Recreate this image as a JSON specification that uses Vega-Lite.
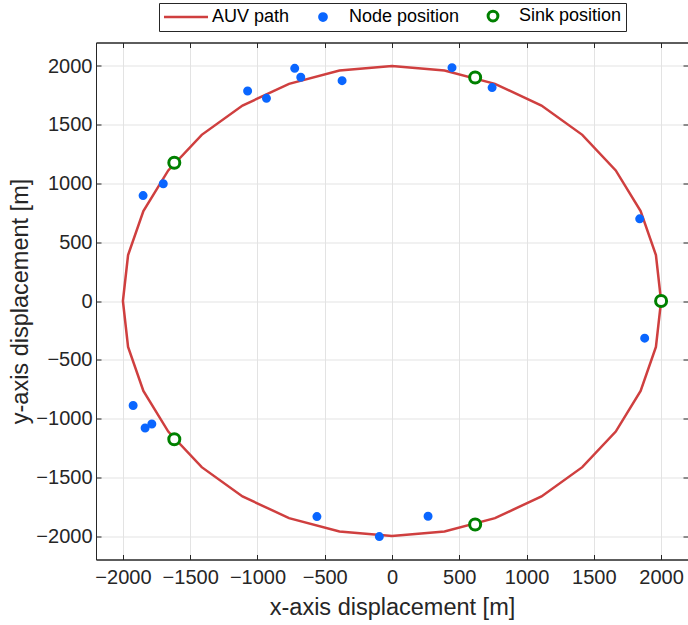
{
  "$schema": "https://vega.github.io/schema/vega-lite/v6.json",
  "width": 592,
  "height": 517,
  "autosize": {"type": "none"},
  "padding": {"left": 96, "top": 42.5, "right": 0, "bottom": 65.5},
  "background": "white",
  "config": {
    "view": {"stroke": "#262626", "strokeWidth": 1},
    "font": "Liberation Sans",
    "axis": {
      "gridColor": "#e3e3e3",
      "gridWidth": 1,
      "domainColor": "#262626",
      "tickColor": "#262626",
      "labelColor": "#262626",
      "titleColor": "#262626",
      "labelFontSize": 20,
      "titleFontSize": 23.5,
      "titleFontWeight": "normal",
      "labelFont": "Liberation Sans",
      "titleFont": "Liberation Sans",
      "tickSize": -5,
      "format": "d"
    },
    "legend": {
      "orient": "none", "legendX": 63, "legendY": -39.5,
      "direction": "horizontal", "title": null,
      "labelFontSize": 18, "labelFont": "Liberation Sans", "labelColor": "#000000",
      "strokeColor": "#262626", "fillColor": "white",
      "padding": 4, "columnPadding": 10,
      "symbolSize": 49, "symbolOffset": 14, "labelOffset": 17
    }
  },
  "datasets": {
    "path": [
      {"k": 0, "x": 2000, "y": 0, "series": "AUV path"},
      {"k": 1, "x": 1961.6, "y": 390.2, "series": "AUV path"},
      {"k": 2, "x": 1847.8, "y": 765.4, "series": "AUV path"},
      {"k": 3, "x": 1663.0, "y": 1111.1, "series": "AUV path"},
      {"k": 4, "x": 1414.2, "y": 1414.2, "series": "AUV path"},
      {"k": 5, "x": 1111.1, "y": 1663.0, "series": "AUV path"},
      {"k": 6, "x": 765.4, "y": 1847.8, "series": "AUV path"},
      {"k": 7, "x": 390.2, "y": 1961.6, "series": "AUV path"},
      {"k": 8, "x": 0, "y": 2000, "series": "AUV path"},
      {"k": 9, "x": -390.2, "y": 1961.6, "series": "AUV path"},
      {"k": 10, "x": -765.4, "y": 1847.8, "series": "AUV path"},
      {"k": 11, "x": -1111.1, "y": 1663.0, "series": "AUV path"},
      {"k": 12, "x": -1414.2, "y": 1414.2, "series": "AUV path"},
      {"k": 13, "x": -1663.0, "y": 1111.1, "series": "AUV path"},
      {"k": 14, "x": -1847.8, "y": 765.4, "series": "AUV path"},
      {"k": 15, "x": -1961.6, "y": 390.2, "series": "AUV path"},
      {"k": 16, "x": -2000, "y": 0, "series": "AUV path"},
      {"k": 17, "x": -1961.6, "y": -390.2, "series": "AUV path"},
      {"k": 18, "x": -1847.8, "y": -765.4, "series": "AUV path"},
      {"k": 19, "x": -1663.0, "y": -1111.1, "series": "AUV path"},
      {"k": 20, "x": -1414.2, "y": -1414.2, "series": "AUV path"},
      {"k": 21, "x": -1111.1, "y": -1663.0, "series": "AUV path"},
      {"k": 22, "x": -765.4, "y": -1847.8, "series": "AUV path"},
      {"k": 23, "x": -390.2, "y": -1961.6, "series": "AUV path"},
      {"k": 24, "x": 0, "y": -2000, "series": "AUV path"},
      {"k": 25, "x": 390.2, "y": -1961.6, "series": "AUV path"},
      {"k": 26, "x": 765.4, "y": -1847.8, "series": "AUV path"},
      {"k": 27, "x": 1111.1, "y": -1663.0, "series": "AUV path"},
      {"k": 28, "x": 1414.2, "y": -1414.2, "series": "AUV path"},
      {"k": 29, "x": 1663.0, "y": -1111.1, "series": "AUV path"},
      {"k": 30, "x": 1847.8, "y": -765.4, "series": "AUV path"},
      {"k": 31, "x": 1961.6, "y": -390.2, "series": "AUV path"},
      {"k": 32, "x": 2000, "y": 0, "series": "AUV path"}
    ],
    "nodes": [
      {"x": -1850, "y": 897, "series": "Node position"},
      {"x": -1700, "y": 998, "series": "Node position"},
      {"x": -1073, "y": 1787, "series": "Node position"},
      {"x": -933, "y": 1725, "series": "Node position"},
      {"x": -723, "y": 1980, "series": "Node position"},
      {"x": -678, "y": 1904, "series": "Node position"},
      {"x": -371, "y": 1875, "series": "Node position"},
      {"x": 446, "y": 1986, "series": "Node position"},
      {"x": 744, "y": 1816, "series": "Node position"},
      {"x": 1841, "y": 699, "series": "Node position"},
      {"x": 1878, "y": -316, "series": "Node position"},
      {"x": -1924, "y": -889, "series": "Node position"},
      {"x": -1835, "y": -1081, "series": "Node position"},
      {"x": -1785, "y": -1047, "series": "Node position"},
      {"x": -558, "y": -1835, "series": "Node position"},
      {"x": -94, "y": -2005, "series": "Node position"},
      {"x": 268, "y": -1832, "series": "Node position"}
    ],
    "sinks": [
      {"x": 2000, "y": 0, "series": "Sink position"},
      {"x": 618, "y": 1902, "series": "Sink position"},
      {"x": -1618, "y": 1176, "series": "Sink position"},
      {"x": -1618, "y": -1176, "series": "Sink position"},
      {"x": 618, "y": -1902, "series": "Sink position"}
    ]
  },
  "layer": [
    {
      "data": {"name": "path"},
      "mark": {"type": "line", "strokeWidth": 2.5, "clip": false},
      "encoding": {
        "x": {
          "field": "x", "type": "quantitative",
          "scale": {"domain": [-2200, 2200], "nice": false, "zero": false},
          "axis": {"orient": "bottom", "values": [-2000, -1500, -1000, -500, 0, 500, 1000, 1500, 2000], "title": "x-axis displacement [m]", "grid": true, "labelPadding": 13, "titlePadding": 8}
        },
        "y": {
          "field": "y", "type": "quantitative",
          "scale": {"domain": [-2200, 2200], "nice": false, "zero": false},
          "axis": {"orient": "left", "values": [-2000, -1500, -1000, -500, 0, 500, 1000, 1500, 2000], "title": "y-axis displacement [m]", "grid": true, "labelPadding": 9, "titlePadding": 3}
        },
        "order": {"field": "k", "type": "quantitative"},
        "stroke": {
          "field": "series", "type": "nominal",
          "scale": {"domain": ["AUV path", "Node position", "Sink position"], "range": ["#cf3f3f", "#0a66ff", "#008000"]}
        }
      }
    },
    {
      "data": {"name": "nodes"},
      "mark": {"type": "point", "filled": true, "opacity": 1, "size": 39},
      "encoding": {
        "x": {"field": "x", "type": "quantitative", "axis": {"orient": "top", "values": [-2000, -1500, -1000, -500, 0, 500, 1000, 1500, 2000], "labels": false, "title": null, "grid": false}},
        "y": {"field": "y", "type": "quantitative", "axis": {"orient": "right", "values": [-2000, -1500, -1000, -500, 0, 500, 1000, 1500, 2000], "labels": false, "title": null, "grid": false}},
        "stroke": {"field": "series", "type": "nominal"},
        "fill": {
          "field": "series", "type": "nominal",
          "scale": {"domain": ["AUV path", "Node position", "Sink position"], "range": ["transparent", "#0a66ff", "white"]}
        },
        "shape": {
          "field": "series", "type": "nominal",
          "scale": {"domain": ["AUV path", "Node position", "Sink position"], "range": ["M-6.29,0H6.29", "circle", "M1.4,0A1.4,1.4,0,1,1,-1.4,0A1.4,1.4,0,1,1,1.4,0Z"]}
        },
        "strokeWidth": {
          "field": "series", "type": "nominal",
          "scale": {"domain": ["AUV path", "Node position", "Sink position"], "range": [2.5, 3]}
        }
      }
    },
    {
      "data": {"name": "sinks"},
      "mark": {"type": "point", "filled": true, "opacity": 1, "size": 62},
      "encoding": {
        "x": {"field": "x", "type": "quantitative", "axis": null},
        "y": {"field": "y", "type": "quantitative", "axis": null},
        "stroke": {"field": "series", "type": "nominal"},
        "fill": {"field": "series", "type": "nominal"},
        "shape": {"field": "series", "type": "nominal"},
        "strokeWidth": {"field": "series", "type": "nominal"}
      }
    }
  ],
  "resolve": {"axis": {"x": "independent", "y": "independent"}}
}
